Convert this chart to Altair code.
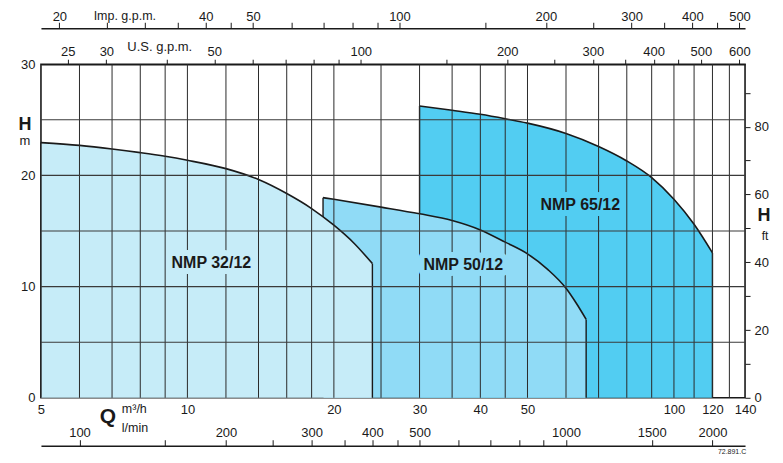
import json
import altair as alt
import pandas as pd

# ---------------- data ----------------
q32 = [5, 6, 7, 8, 9, 10, 12, 14, 16, 18, 20, 22, 24]
h32 = [22.95, 22.7, 22.38, 22.05, 21.72, 21.36, 20.61, 19.63, 18.37, 17.02, 15.52, 13.9, 12.07]
q50 = [19, 20, 25, 30, 35, 40, 45, 50, 55, 60, 63, 66]
h50 = [18.0, 17.85, 17.15, 16.55, 15.95, 15.1, 14.0, 12.95, 11.55, 9.85, 8.5, 7.05]
q65 = [30, 35, 40, 45, 50, 60, 70, 80, 90, 100, 110, 120]
h65 = [26.25, 25.86, 25.5, 25.1, 24.7, 23.77, 22.6, 21.3, 19.8, 17.85, 15.6, 13.03]

pumps = ["NMP 32/12", "NMP 50/12", "NMP 65/12"]
fills = ["#C6ECF8", "#90DBF6", "#52CDF2"]
label_q = [11.2, 36.9, 64.2]
label_h = [12.1, 11.9, 17.3]

q_grid = [6, 7, 8, 9, 10, 12, 14, 16, 18, 20, 25, 30, 35, 40, 45, 50, 60, 70, 80, 90, 100, 110, 120, 130]
h_grid = [5, 10, 15, 20, 25]
q_labels = [5, 10, 20, 30, 40, 50, 100, 120, 140]
h_labels = [0, 10, 20, 30]
imp_ticks = [20, 25, 30, 35, 40, 45, 50, 60, 70, 80, 90, 100, 150, 200, 250, 300, 350, 400, 450, 500]
imp_labels = [20, 40, 50, 100, 200, 300, 400, 500]
us_ticks = [25, 30, 40, 50, 60, 70, 80, 90, 100, 150, 200, 250, 300, 350, 400, 450, 500, 600]
us_labels = [25, 30, 50, 100, 200, 300, 400, 500, 600]
lmin_ticks = [100, 150, 200, 250, 300, 350, 400, 450, 500, 600, 700, 800, 900, 1000, 1500, 2000]
lmin_labels = [100, 200, 300, 400, 500, 1000, 1500, 2000]
ft_ticks = [0, 10, 20, 30, 40, 50, 60, 70, 80, 90]
ft_labels = [0, 20, 40, 60, 80]

# unit conversions (per m3/h, per m)
LPM = 1000 / 60
IMP = 1000 / 4.54609 / 60
USG = 1000 / 3.785411784 / 60
FT = 1 / 0.3048
QMIN, QMAX, HMAX = 5, 140, 30

FONT = "Liberation Sans"
INK = "#1a1a1a"

def only(lbls):
    return "indexof(" + json.dumps(lbls) + ", datum.value) >= 0 ? datum.label : ''"

common = dict(labelFont=FONT, labelFontSize=13, labelColor=INK, labelFlush=False,
              labelOverlap=False, grid=False, title=None, tickColor=INK,
              domainColor=INK, tickWidth=1)

xs = alt.Scale(type="log", domain=[QMIN, QMAX], nice=False)
ys = alt.Scale(domain=[0, HMAX], nice=False, zero=True)
x_axis = alt.Axis(values=q_labels, format="d", ticks=False, domain=False, labelPadding=6, **common)
y_axis = alt.Axis(values=h_labels, format="d", ticks=False, domain=False, labelPadding=6, **common)

X = lambda f="Q": alt.X(f + ":Q", scale=xs, axis=x_axis)
Y = lambda f="H": alt.Y(f + ":Q", scale=ys, axis=y_axis)

series = {
    pumps[0]: (q32, h32, fills[0]),
    pumps[1]: (q50, h50, fills[1]),
    pumps[2]: (q65, h65, fills[2]),
}

layers = []
for name in [pumps[2], pumps[1], pumps[0]]:
    q, h, col = series[name]
    df = pd.DataFrame({"Q": q, "H": h})
    edges = pd.DataFrame({"Q": [q[0], q[-1]], "H": [h[0], h[-1]]})
    layers.append(alt.Chart(df).mark_area(color=col, interpolate="monotone").encode(x=X(), y=Y()))
    layers.append(alt.Chart(df).mark_line(color=INK, strokeWidth=1.6, interpolate="monotone").encode(x=X(), y=Y()))
    layers.append(alt.Chart(edges).mark_rule(color=INK, strokeWidth=1.4).encode(x=X(), y=Y(), y2=alt.datum(0)))

# grid lines
layers.append(alt.Chart(pd.DataFrame({"Q": q_grid})).mark_rule(color="#2a2a2a", strokeWidth=1).encode(x=X()))
layers.append(alt.Chart(pd.DataFrame({"H": h_grid})).mark_rule(color="#3a3a3a", strokeWidth=1.1).encode(y=Y()))

# pump labels with halo that masks the grid
lab = pd.DataFrame({"Q": label_q, "H": label_h, "pump": pumps})
layers.append(alt.Chart(lab).mark_text(font=FONT, fontSize=16, fontWeight="bold", strokeWidth=12,
                                       strokeJoin="round").encode(
    x=X(), y=Y(), text="pump:N",
    stroke=alt.Stroke("pump:N", scale=alt.Scale(domain=pumps, range=fills), legend=None),
    fill=alt.Fill("pump:N", scale=alt.Scale(domain=pumps, range=fills), legend=None)))
layers.append(alt.Chart(lab).mark_text(font=FONT, fontSize=16, fontWeight="bold", color=INK).encode(
    x=X(), y=Y(), text="pump:N"))

# axis unit labels
def txt(s, x, y, size=13, weight="normal", align="center", baseline="middle"):
    return alt.Chart(pd.DataFrame({"t": [s]})).mark_text(
        font=FONT, fontSize=size, fontWeight=weight, align=align, baseline=baseline, color=INK
    ).encode(text="t:N", x=alt.value(x), y=alt.value(y))

layers += [
    txt("H", -16, 61, 18, "bold"),
    txt("m", -16, 77, 13),
    txt("H", 724, 152, 18, "bold"),
    txt("ft", 725, 172, 12),
    txt("Q", 67, 353, 21, "bold"),
    txt("m³/h", 81, 345, 12.5, align="left"),
    txt("l/min", 81, 364, 12.5, align="left"),
    txt("Imp. g.p.m.", 84, -44.6, 12.5, baseline="alphabetic"),
    txt("U.S. g.p.m.", 119, -13.5, 13, baseline="alphabetic"),
    txt("72.891.C", 692, 388, 7),
]

main = alt.layer(*layers)

# secondary axes
def helper_x(vals, lbls, factor, orient, offset, tick, pad):
    return alt.Chart(pd.DataFrame({"v": vals})).mark_point(opacity=0).encode(
        x=alt.X("v:Q", scale=alt.Scale(type="log", domain=[QMIN * factor, QMAX * factor], nice=False),
                axis=alt.Axis(orient=orient, offset=offset, values=vals, format="d",
                              labelExpr=only(lbls), tickSize=tick, domainWidth=1.6,
                              labelBaseline="alphabetic", labelPadding=pad, **common)))

imp = helper_x(imp_ticks, imp_labels, IMP, "top", 36, 6, 2)
us = helper_x(us_ticks, us_labels, USG, "top", 0, 5, 4)
lmin = helper_x(lmin_ticks, lmin_labels, LPM, "top", -382, 6, 3)

ft = alt.Chart(pd.DataFrame({"v": ft_ticks})).mark_point(opacity=0).encode(
    y=alt.Y("v:Q", scale=alt.Scale(domain=[0, HMAX * FT], nice=False, zero=True),
            axis=alt.Axis(orient="right", values=ft_ticks, format="d", labelExpr=only(ft_labels),
                          tickSize=5, domain=False, labelPadding=4, **common)))

chart = alt.layer(main, imp, us, lmin, ft).resolve_scale(x="independent", y="independent").properties(
    width=705, height=334,
    padding={"left": 33, "top": 56, "right": 30, "bottom": 62},
    autosize=alt.AutoSizeParams(type="none"),
    background="white",
).configure_view(stroke=INK, strokeWidth=1.6)

chart.save("out.html", embed_options={"renderer": "svg", "actions": False})
